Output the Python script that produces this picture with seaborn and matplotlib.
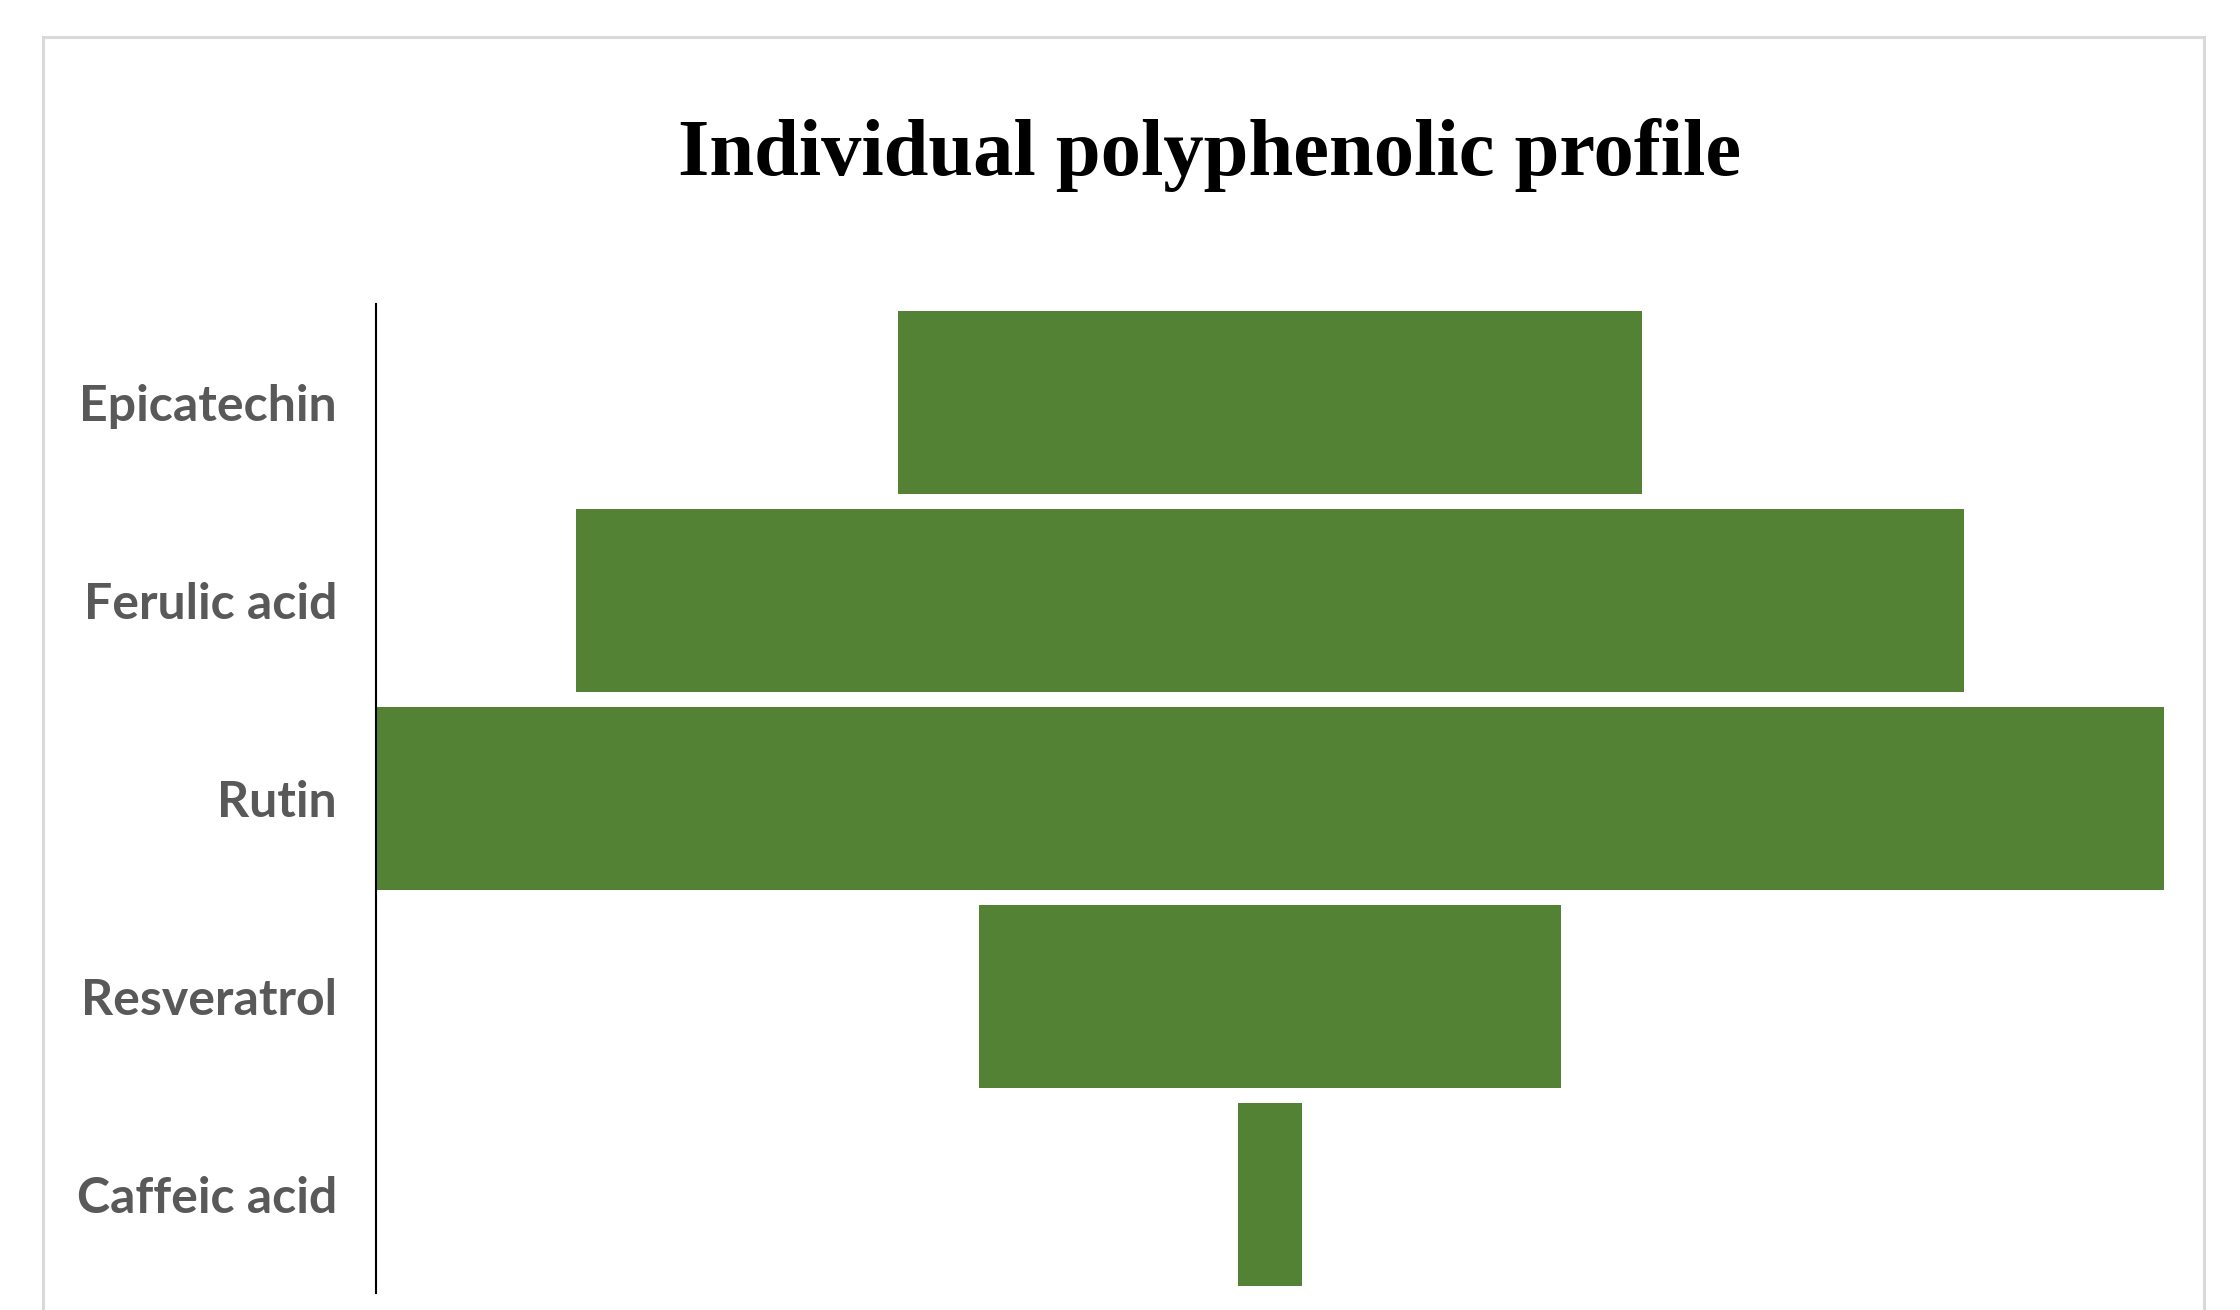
import matplotlib
matplotlib.use("Agg")
import matplotlib.pyplot as plt
import seaborn as sns
import pandas as pd
import numpy as np
from matplotlib.patches import Rectangle

# ---- data (relative amounts) ----
compounds = ["Epicatechin", "Ferulic acid", "Rutin", "Resveratrol", "Caffeic acid"]
amounts = [41.6, 77.6, 100.0, 32.5, 3.6]

title_text = "Individual polyphenolic profile"
bar_color = "#548235"
label_color = "#595959"

sns.set_theme(style="white")
plt.rcParams["font.family"] = ["Lato", "DejaVu Sans"]

df = pd.DataFrame({"compound": compounds, "amount": amounts})
lefts = [-v / 2 for v in amounts]  # centre each bar for the funnel layout

fig = plt.figure(figsize=(22.4, 13.1), dpi=100)
fig.patch.set_facecolor("white")

# outer chart frame
fig.patches.append(Rectangle((43 / 2240, -0.05), (2204 - 43) / 2240, 1.05 - 37 / 1310,
                             transform=fig.transFigure, fill=False,
                             edgecolor="#D9D9D9", linewidth=2.2, zorder=0))

ax = fig.add_axes([376 / 2240, 17 / 1310, (2164 - 376) / 2240, (1293 - 304) / 1310])
sns.barplot(data=df, x="amount", y="compound", orient="h", order=compounds,
            color=bar_color, saturation=1, width=0.925, linewidth=0,
            left=lefts, ax=ax)

vmax = max(amounts)
ax.set_xlim(-vmax / 2, vmax / 2)
ax.set_ylim(len(compounds) - 0.5, -0.5)
ax.set_xlabel("")
ax.set_ylabel("")
ax.set_xticks([])
for s in ["top", "right", "bottom"]:
    ax.spines[s].set_visible(False)
ax.spines["left"].set_color("black")
ax.spines["left"].set_linewidth(1.5)
ax.tick_params(axis="y", length=0, pad=28, labelsize=36, labelcolor=label_color)
for lab in ax.get_yticklabels():
    lab.set_fontweight("bold")

fig.text(1210 / 2240, 1 - 155 / 1310, title_text, ha="center", va="center",
         fontsize=58, fontweight="bold", family=["Liberation Serif", "DejaVu Serif"],
         color="black")

fig.savefig("out.png", dpi=100, facecolor="white")
